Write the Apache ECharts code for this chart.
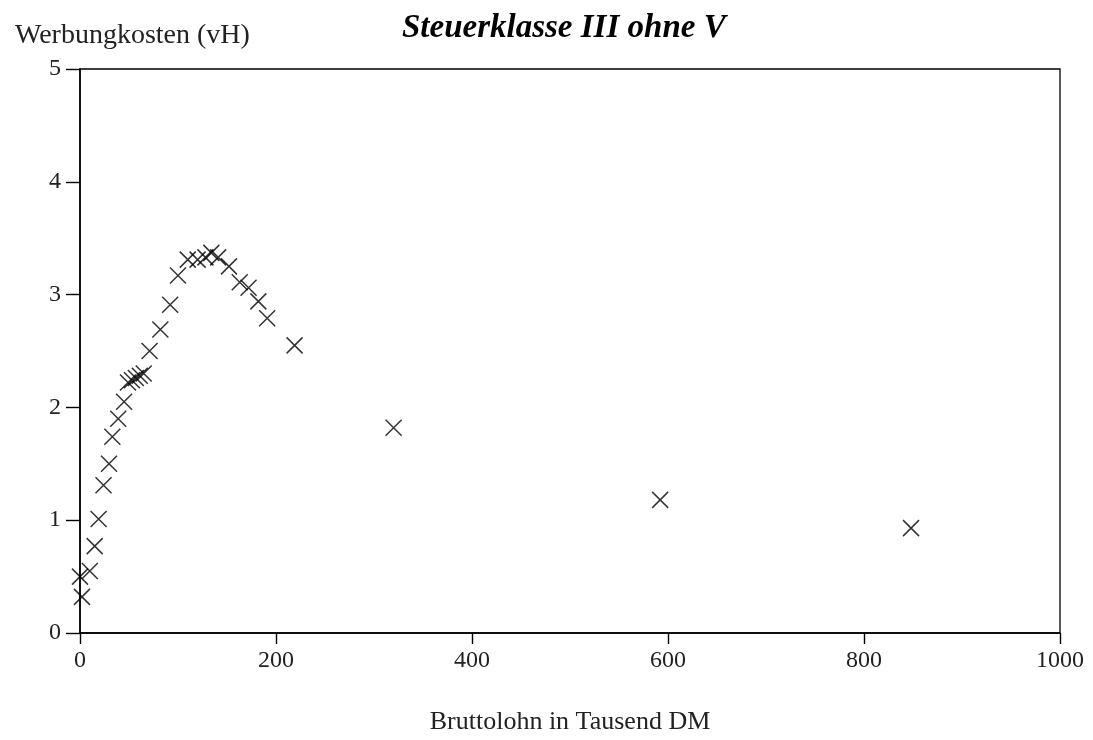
<!DOCTYPE html>
<html>
<head>
<meta charset="utf-8">
<script src="https://cdn.jsdelivr.net/npm/echarts@6/dist/echarts.min.js"></script>
<style>
html,body{margin:0;padding:0;background:#fff;}
#chart{width:1093px;height:740px;}
</style>
</head>
<body>
<div id="chart"></div>
<script>
var chartTitle = 'Steuerklasse III ohne V';
var yAxisTitle = 'Werbungkosten (vH)';
var xAxisTitle = 'Bruttolohn in Tausend DM';

// Bruttolohn (Tausend DM)
var xValues = [2, 0, 10, 15, 19, 24, 29.6, 33, 39, 45,
  49, 53, 57, 61, 65, 71, 82, 92, 100, 110,
  120, 128, 134, 141, 152, 163, 172, 182, 191, 219,
  320, 592, 848];
// Werbungkosten (vH)
var yValues = [0.32, 0.50, 0.55, 0.77, 1.01, 1.31, 1.50, 1.74, 1.90, 2.05,
  2.22, 2.24, 2.26, 2.28, 2.30, 2.50, 2.69, 2.91, 3.17, 3.31,
  3.31, 3.33, 3.37, 3.33, 3.25, 3.11, 3.06, 2.94, 2.79, 2.55,
  1.82, 1.18, 0.93];

var xTicks = [0, 200, 400, 600, 800, 1000];
var yTicks = [0, 1, 2, 3, 4, 5];

var points = xValues.map(function (x, i) { return [x, yValues[i]]; });

var chart = echarts.init(document.getElementById('chart'));
var serif = '"Liberation Serif", "Times New Roman", serif';
chart.setOption({
  backgroundColor: '#fff',
  animation: false,
  title: [
    { text: chartTitle, left: 397, top: 7,
      textStyle: { fontFamily: serif, fontSize: 33, fontWeight: 'bold', fontStyle: 'italic', color: '#000' } },
    { text: yAxisTitle, left: 10, top: 17,
      textStyle: { fontFamily: serif, fontSize: 28, fontWeight: 'normal', color: '#222' } }
  ],
  grid: { left: 80, right: 33, top: 69, bottom: 107, show: true, borderColor: '#000', borderWidth: 1.3, backgroundColor: 'transparent' },
  xAxis: {
    type: 'value', min: xTicks[0], max: xTicks[xTicks.length - 1], interval: 200,
    name: xAxisTitle, nameLocation: 'middle', nameGap: 76,
    nameTextStyle: { fontFamily: serif, fontSize: 26, color: '#222' },
    axisLine: { show: true, onZero: false, lineStyle: { color: '#000', width: 1.6 } },
    axisTick: { show: true, inside: false, length: 11, lineStyle: { color: '#000', width: 1.4 } },
    axisLabel: { fontFamily: serif, fontSize: 24, color: '#222', margin: 16,
      formatter: function (v) { return String(v); } },
    splitLine: { show: false }
  },
  yAxis: {
    type: 'value', min: yTicks[0], max: yTicks[yTicks.length - 1], interval: 1,
    axisLine: { show: true, onZero: false, lineStyle: { color: '#000', width: 1.6 } },
    axisTick: { show: true, inside: false, length: 14, lineStyle: { color: '#000', width: 1.4 } },
    axisLabel: { fontFamily: serif, fontSize: 24, color: '#222', margin: 19 },
    splitLine: { show: false }
  },
  series: [{
    type: 'scatter',
    data: points,
    symbol: 'path://M0,0L10,10M10,0L0,10',
    symbolSize: 16,
    itemStyle: { color: 'none', borderColor: '#000', borderWidth: 1.5 },
    emphasis: { disabled: true }
  }]
});
</script>
</body>
</html>
